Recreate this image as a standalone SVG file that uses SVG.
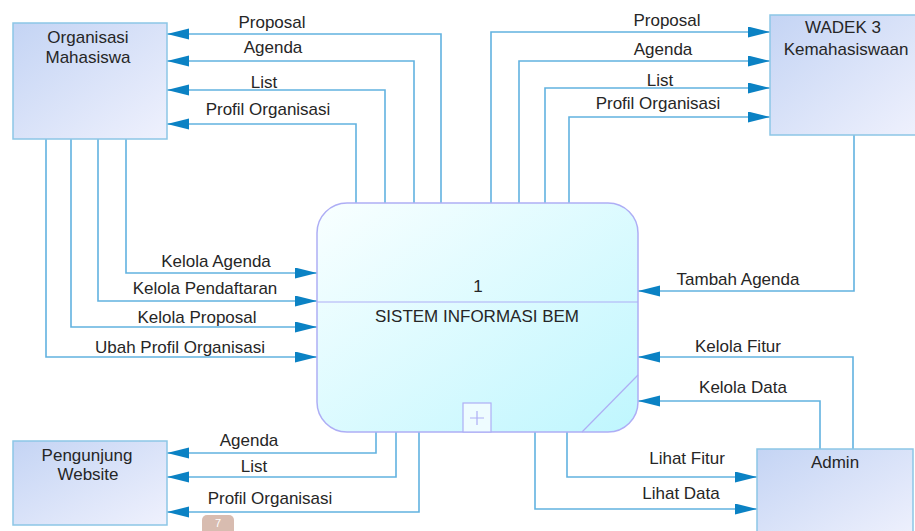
<svg xmlns="http://www.w3.org/2000/svg" width="915" height="531" viewBox="0 0 915 531">
<defs>
<linearGradient id="gEnt" x1="0" y1="0" x2="1" y2="1">
<stop offset="0" stop-color="#c4d4f4"/>
<stop offset="1" stop-color="#eff1fd"/>
</linearGradient>
<linearGradient id="gProc" x1="0" y1="0" x2="1" y2="1">
<stop offset="0" stop-color="#f9ffff"/>
<stop offset="1" stop-color="#bff6fe"/>
</linearGradient>
<marker id="ah" markerUnits="userSpaceOnUse" markerWidth="23" markerHeight="12" refX="22" refY="5.5" orient="auto">
<path d="M0,0 L22,5.5 L0,11 Z" fill="#0b82c4"/>
</marker>
<style>
.ent{fill:url(#gEnt);stroke:#8cc6e6;stroke-width:1.5}
.proc{fill:url(#gProc);stroke:#aeaef5;stroke-width:1.5}
.pl{fill:none;stroke:#aeaef5;stroke-width:1.2}
.c{fill:none;stroke:#62b2e0;stroke-width:1.6;marker-end:url(#ah)}
text{font-family:"Liberation Sans",Arial,sans-serif;font-size:17px;fill:#262626;text-anchor:middle}
</style>
</defs>
<rect width="915" height="531" fill="#ffffff"/>

<g id="connectors">
<path class="c" d="M441,203 V34 H167"/>
<path class="c" d="M414,203 V61 H167"/>
<path class="c" d="M385,203 V90 H167"/>
<path class="c" d="M356,203 V124 H167"/>
<path class="c" d="M491,203 V32 H770"/>
<path class="c" d="M519,203 V61 H770"/>
<path class="c" d="M545,203 V88 H770"/>
<path class="c" d="M569,203 V117 H770"/>
<path class="c" d="M126,139 V273 H317"/>
<path class="c" d="M98,139 V301 H317"/>
<path class="c" d="M71,139 V327 H317"/>
<path class="c" d="M46,139 V357 H317"/>
<path class="c" d="M854,135 V291 H638"/>
<path class="c" d="M853,449 V357 H638"/>
<path class="c" d="M820,449 V401 H638"/>
<path class="c" d="M567,432 V477 H757"/>
<path class="c" d="M535,432 V509 H757"/>
<path class="c" d="M376,432 V453 H167"/>
<path class="c" d="M396,432 V477 H167"/>
<path class="c" d="M419,432 V512 H167"/>
<text x="272" y="28">Proposal</text>
<text x="273" y="53">Agenda</text>
<text x="264" y="88">List</text>
<text x="268" y="115">Profil Organisasi</text>
<text x="667" y="26">Proposal</text>
<text x="663" y="55">Agenda</text>
<text x="660" y="86">List</text>
<text x="658" y="109">Profil Organisasi</text>
<text x="216" y="267">Kelola Agenda</text>
<text x="205" y="294">Kelola Pendaftaran</text>
<text x="197" y="323">Kelola Proposal</text>
<text x="180" y="353">Ubah Profil Organisasi</text>
<text x="738" y="285">Tambah Agenda</text>
<text x="738" y="352">Kelola Fitur</text>
<text x="743" y="393">Kelola Data</text>
<text x="687" y="464">Lihat Fitur</text>
<text x="681" y="499">Lihat Data</text>
<text x="249" y="446">Agenda</text>
<text x="254" y="472">List</text>
<text x="270" y="504">Profil Organisasi</text>
</g>

<g id="org-mahasiswa">
<rect class="ent" x="13" y="23" width="154" height="116"/>
<text x="88" y="43">Organisasi</text>
<text x="88" y="63">Mahasiswa</text>
</g>

<g id="wadek3">
<rect class="ent" x="770" y="15" width="150" height="120"/>
<text x="843" y="33">WADEK 3</text>
<text x="846" y="55">Kemahasiswaan</text>
</g>

<g id="admin">
<rect class="ent" x="757" y="449" width="156" height="90"/>
<text x="835" y="468">Admin</text>
</g>

<g id="pengunjung-website">
<rect class="ent" x="13" y="441" width="154" height="84"/>
<text x="87" y="461">Pengunjung</text>
<text x="88" y="480">Website</text>
</g>

<g id="process-1">
<rect class="proc" x="317" y="203" width="321" height="229" rx="30" ry="30"/>
<line class="pl" x1="317" y1="302" x2="638" y2="302"/>
<line class="pl" x1="582" y1="432" x2="638" y2="375"/>
<rect class="pl" x="463" y="403" width="28" height="29" style="fill:#eefcff"/>
<path class="pl" d="M470,418 H484 M477,411 V425"/>
<text x="478" y="292">1</text>
<text x="477" y="322">SISTEM INFORMASI BEM</text>
</g>

<g id="page-badge">
<rect x="202" y="515" width="32" height="30" rx="5" fill="#d8bcb0"/>
<text x="218" y="527" style="fill:#ffffff;font-size:11px">7</text>
</g>
</svg>
